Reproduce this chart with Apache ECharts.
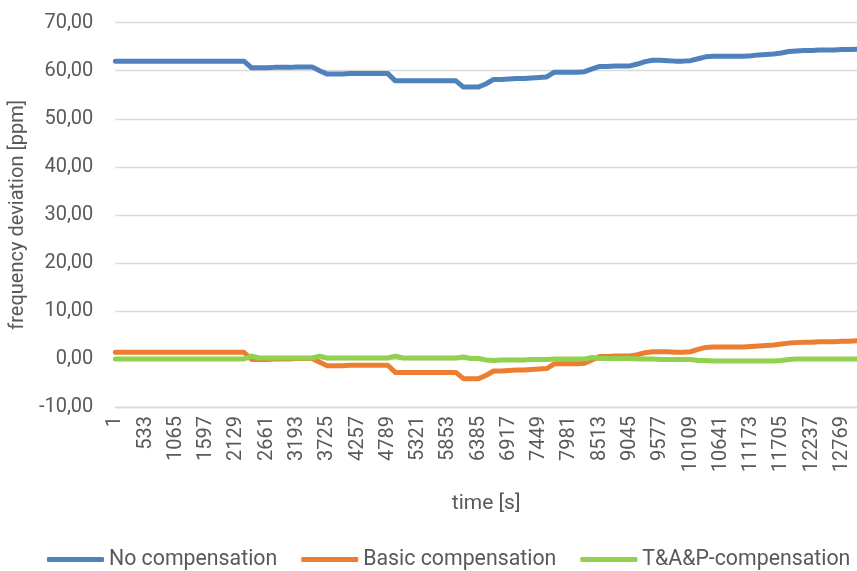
<!DOCTYPE html>
<html>
<head>
<meta charset="utf-8">
<script src="https://cdn.jsdelivr.net/npm/echarts@6/dist/echarts.min.js"></script>
<style>html,body{margin:0;padding:0;background:#fff}#c{width:857px;height:571px}</style>
</head>
<body>
<div id="c"></div>
<script>
// time [s] categories (sampled every 133 s)
var times = [1,134,267,400,533,666,799,932,1065,1198,1331,1464,1597,1730,1863,1996,2129,2262,2395,2528,2661,2794,2927,3060,3193,3326,3459,3592,3725,3858,3991,4124,4257,4390,4523,4656,4789,4922,5055,5188,5321,5454,5587,5720,5853,5986,6119,6252,6385,6518,6651,6784,6917,7050,7183,7316,7449,7582,7715,7848,7981,8114,8247,8380,8513,8646,8779,8912,9045,9178,9311,9444,9577,9710,9843,9976,10109,10242,10375,10508,10641,10774,10907,11040,11173,11306,11439,11572,11705,11838,11971,12104,12237,12370,12503,12636,12769,12902,13035];

var noCompensation = [
62.0,62.0,62.0,62.0,62.0,62.0,62.0,62.0,62.0,62.0,62.0,62.0,62.0,62.0,62.0,62.0,62.0,62.0,
60.6,60.6,60.6,60.7,60.7,60.7,60.8,60.8,60.8,
60.0,
59.3,59.3,59.3,59.4,59.4,59.4,59.4,59.4,59.4,
57.9,57.9,57.9,57.9,57.9,57.9,57.9,57.9,57.9,
56.6,56.6,56.6,
57.3,
58.2,58.2,58.3,58.4,58.4,58.5,58.6,58.7,
59.7,59.7,59.7,59.7,59.8,
60.4,
60.9,60.9,61.0,61.0,61.0,
61.4,61.9,62.2,
62.2,62.1,62.0,62.0,62.1,
62.5,62.9,
63.0,63.0,63.0,63.0,63.0,
63.1,63.3,63.4,63.5,63.7,64.0,64.1,64.2,64.2,64.3,64.3,64.3,64.4,64.4,64.5
];

var basicCompensation = [
1.4,1.4,1.4,1.4,1.4,1.4,1.4,1.4,1.4,1.4,1.4,1.4,1.4,1.4,1.4,1.4,1.4,1.4,
-0.1,-0.1,-0.1,0.0,0.0,0.0,0.1,0.1,0.1,
-0.7,
-1.4,-1.4,-1.4,-1.3,-1.3,-1.3,-1.3,-1.3,-1.3,
-2.8,-2.8,-2.8,-2.8,-2.8,-2.8,-2.8,-2.8,-2.8,
-4.1,-4.1,-4.1,
-3.4,
-2.5,-2.5,-2.4,-2.3,-2.3,-2.2,-2.1,-2.0,
-1.0,-1.0,-1.0,-1.0,-0.9,
-0.2,
0.5,0.5,0.6,0.6,0.6,
0.9,1.3,1.5,
1.5,1.5,1.4,1.4,1.5,
2.0,2.4,
2.5,2.5,2.5,2.5,2.5,
2.6,2.7,2.8,2.9,3.1,3.3,3.4,3.5,3.5,3.6,3.6,3.6,3.7,3.7,3.8
];

var tapCompensation = [
0.0,0.0,0.0,0.0,0.0,0.0,0.0,0.0,0.0,0.0,0.0,0.0,0.0,0.0,0.0,0.0,0.0,0.0,
0.6,0.2,0.2,0.2,0.2,0.2,0.2,0.2,0.2,
0.6,
0.2,0.2,0.2,0.2,0.2,0.2,0.2,0.2,0.2,
0.6,0.2,0.2,0.2,0.2,0.2,0.2,0.2,0.2,
0.4,0.1,0.1,
-0.2,
-0.3,-0.2,-0.2,-0.2,-0.2,-0.1,-0.1,-0.1,
0.0,0.0,0.0,0.0,0.0,
0.3,
0.1,0.1,0.1,0.1,0.1,
0.0,0.0,0.0,
-0.1,-0.1,-0.1,-0.1,-0.1,
-0.3,-0.3,
-0.4,-0.4,-0.4,-0.4,-0.4,
-0.4,-0.4,-0.4,-0.4,-0.3,-0.1,0.0,0.0,0.0,0.0,0.0,0.0,0.0,0.0,0.0
];

var seriesNames = ['No compensation','Basic compensation','T&A&P-compensation'];
var seriesColors = ['#4F81BD','#ED7D31','#92D050'];
var seriesData = [noCompensation, basicCompensation, tapCompensation];

var FONT = 'Roboto';
var TXT = '#595959';
var chart = echarts.init(document.getElementById('c'), null, {renderer:'canvas'});
chart.setOption({
  animation: false,
  backgroundColor: '#fff',
  textStyle: {fontFamily: FONT},
  grid: {left: 115, right: 0, top: 22.7, bottom: 164, containLabel: false},
  legend: {
    left: 47, top: 549, width: 810, padding: 0,
    icon: 'roundRect', itemWidth: 57, itemHeight: 5, itemGap: 24,
    textStyle: {fontFamily: FONT, fontSize: 21.3, color: TXT},
    data: seriesNames
  },
  xAxis: {
    type: 'category',
    data: times,
    boundaryGap: false,
    name: 'time [s]',
    nameLocation: 'middle',
    nameGap: 86,
    nameTextStyle: {fontFamily: FONT, fontSize: 21, color: TXT},
    axisLine: {onZero: false, lineStyle: {color: '#D9D9D9', width: 1.3}},
    axisTick: {show: false},
    axisLabel: {rotate: 90, interval: 3, margin: 9, fontFamily: FONT, fontSize: 20, color: TXT}
  },
  yAxis: {
    type: 'value',
    min: -10, max: 70, interval: 10,
    name: 'frequency deviation [ppm]',
    nameLocation: 'middle',
    nameGap: 75,
    nameTextStyle: {fontFamily: FONT, fontSize: 20, color: TXT},
    axisLine: {show: false},
    axisTick: {show: false},
    splitLine: {lineStyle: {color: '#D9D9D9', width: 1.3}},
    axisLabel: {
      margin: 22, fontFamily: FONT, fontSize: 20, color: TXT,
      formatter: function (v) { return v.toFixed(2).replace('.', ','); }
    }
  },
  series: seriesNames.map(function (n, k) {
    return {
      name: n, type: 'line', data: seriesData[k],
      showSymbol: false, symbol: 'none',
      lineStyle: {color: seriesColors[k], width: 5, cap: 'round', join: 'round'},
      itemStyle: {color: seriesColors[k]}
    };
  })
});
</script>
</body>
</html>
